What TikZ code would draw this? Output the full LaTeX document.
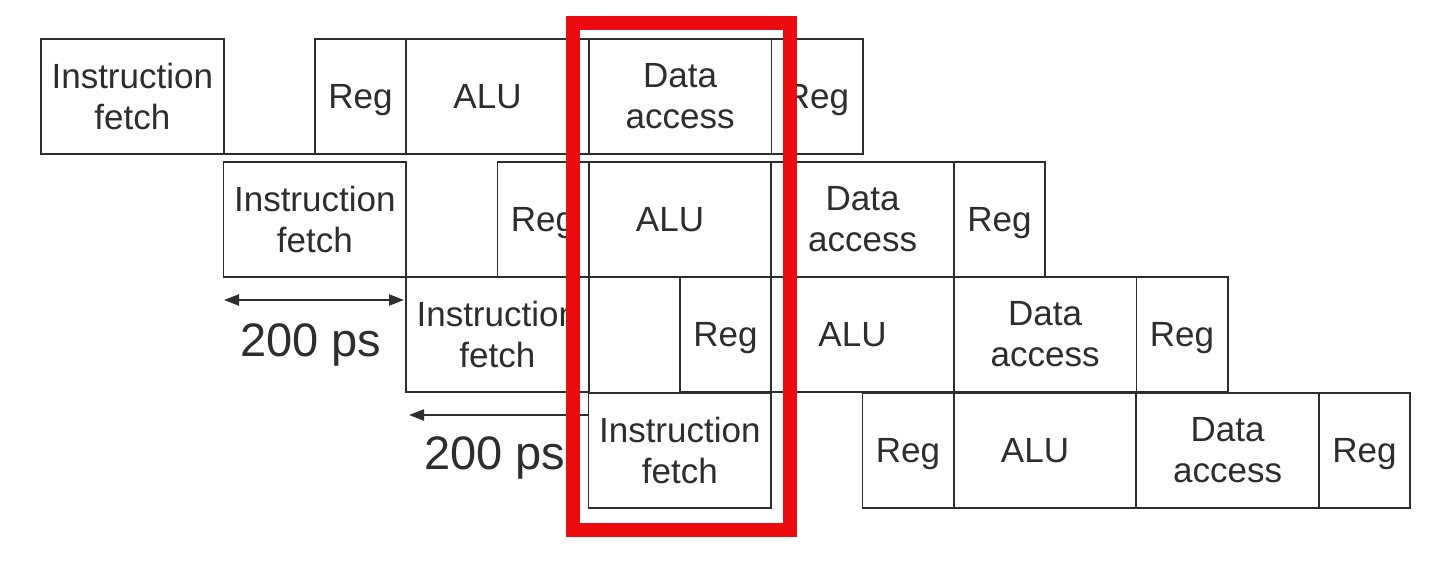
\documentclass[tikz,border=0pt]{standalone}
\usepackage{fontspec}
\setmainfont{Liberation Sans}
\usetikzlibrary{arrows.meta}
\definecolor{hired}{RGB}{234,12,14}
\definecolor{ink}{RGB}{45,45,45}
\newcommand\pipeRow[3]{%
  \node[full] (#1if) at (#2,#3) {Instruction\\fetch};
  \node[half, one] (#1ra) at (#2+273.9,#3) {Reg};
  \node[full, one] (#1alu) at (#2+365.2,#3) {ALU\hspace*{20pt}};
  \node[full] (#1da) at (#2+547.8,#3) {Data\\access};
  \node[half, one] (#1rb) at (#2+730.4,#3) {Reg};
}
\begin{document}
\begin{tikzpicture}[x=1pt,y=-1pt,
  stage/.style={draw=ink, line width=1.8pt, inner sep=0pt, outer sep=0pt,
    anchor=north west, minimum height=115pt, align=center, text=ink,
    font=\fontsize{35}{41}\selectfont},
  one/.style={text depth=0pt},
  full/.style={stage, minimum width=182.6pt},
  half/.style={stage, minimum width=91.3pt},
  conn/.style={draw=ink, line width=1.8pt},
  dim/.style={draw=ink, line width=2.2pt,
    {Triangle[length=15pt,width=11pt]}-{Triangle[length=15pt,width=11pt]}},
  dimleft/.style={draw=ink, line width=2.2pt,
    {Triangle[length=15pt,width=11pt]}-},
  lab/.style={text=ink, font=\fontsize{47}{56}\selectfont},
  hilite/.style={draw=hired, line width=14pt, inner sep=0pt, outer sep=0pt,
    anchor=north west}]
\fill[white] (0,0) rectangle (1438,562);
\useasboundingbox (0,0) rectangle (1438,562);

\pipeRow{ra}{41}{39}
\pipeRow{rb}{223.5}{162}
\pipeRow{rc}{406}{277}
\pipeRow{rd}{588.5}{393}

\draw[conn] (raif.south east) -- (rara.south west);

\coordinate (a1l) at (224,300);
\coordinate (a1r) at (404,300);
\draw[dim] (a1l) -- (a1r);
\node[lab] (t1) at (311,345) {200 ps};

\coordinate (a2l) at (409,415);
\coordinate (a2r) at (588,415);
\draw[dimleft] (a2l) -- (a2r);
\node[lab] (t2) at (495,458) {200 ps};

\node[hilite, minimum width=217pt, minimum height=507pt] (hl) at (573,23) {};
\end{tikzpicture}
\end{document}
